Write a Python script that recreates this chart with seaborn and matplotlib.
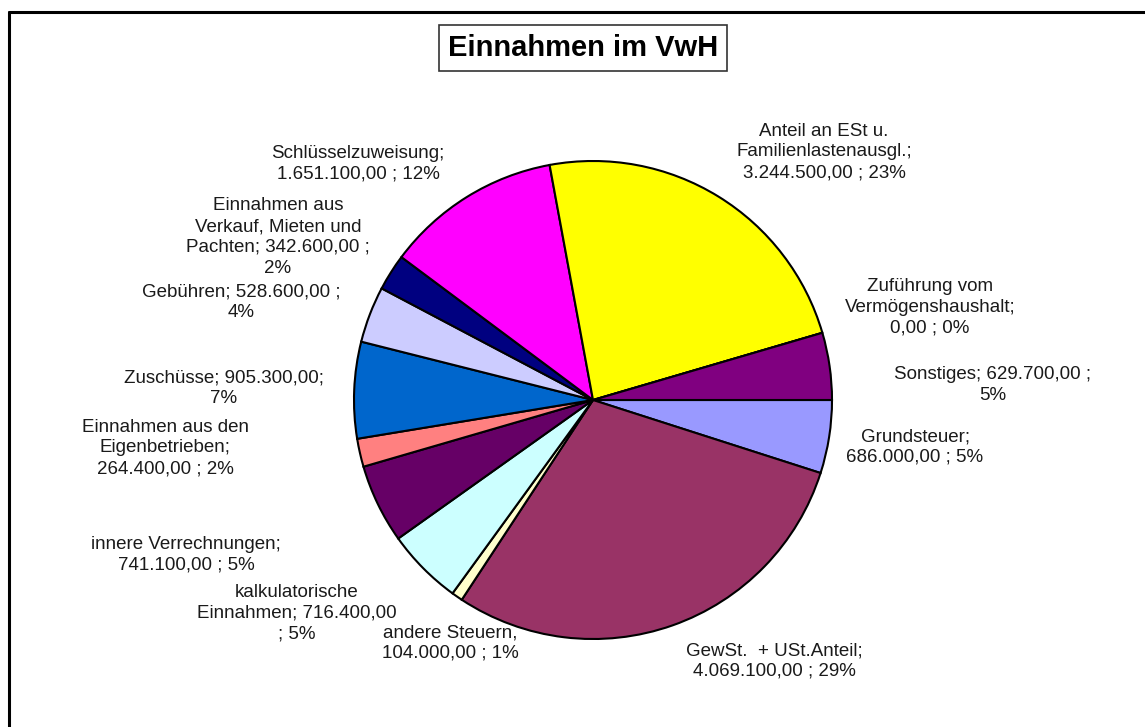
import matplotlib
matplotlib.use("Agg")
import matplotlib.pyplot as plt
import seaborn as sns
from matplotlib.lines import Line2D

# ---------------------------------------------------------
# DATA (clockwise, starting at 3 o'clock)
# ---------------------------------------------------------
categories = [
    "Grundsteuer", "GewSt. + USt.Anteil", "andere Steuern",
    "kalkulatorische Einnahmen", "innere Verrechnungen",
    "Einnahmen aus den Eigenbetrieben", "Zuschüsse", "Gebühren",
    "Einnahmen aus Verkauf, Mieten und Pachten", "Schlüsselzuweisung",
    "Anteil an ESt u. Familienlastenausgl.",
    "Zuführung vom Vermögenshaushalt", "Sonstiges",
]
values = [
    686000, 4069100, 104000, 716400, 741100, 264400, 905300,
    528600, 342600, 1651100, 3244500, 0, 629700,
]
label_templates = [
    "Grundsteuer;\n{v} ; {p}",
    "GewSt.  + USt.Anteil;\n{v} ; {p}",
    "andere Steuern,\n{v} ; {p}",
    "kalkulatorische\nEinnahmen; {v}\n; {p}",
    "innere Verrechnungen;\n{v} ; {p}",
    "Einnahmen aus den\nEigenbetrieben;\n{v} ; {p}",
    "Zuschüsse; {v};\n{p}",
    "Gebühren; {v} ;\n{p}",
    "Einnahmen aus\nVerkauf, Mieten und\nPachten; {v} ;\n{p}",
    "Schlüsselzuweisung;\n{v} ; {p}",
    "Anteil an ESt u.\nFamilienlastenausgl.;\n{v} ; {p}",
    "Zuführung vom\nVermögenshaushalt;\n{v} ; {p}",
    "Sonstiges; {v} ;\n{p}",
]
colors = [
    "#9999FF", "#993366", "#FFFFCC", "#CCFFFF", "#660066", "#FF8080",
    "#0066CC", "#CCCCFF", "#000080", "#FF00FF", "#FFFF00", "#FFFFFF",
    "#800080",
]

# label centres in pixel coordinates (x, y from top)
label_pos = [
    (915, 447), (774, 661), (450, 643), (297, 613), (186, 555),
    (165, 448), (224, 388), (241, 302), (278, 237), (358, 164),
    (824, 152), (930, 307), (993, 385),
]

W, H = 1145, 727
CX, CY, R = 593, 400, 239


def de_num(v):
    s = f"{v:,.2f}"
    return s.replace(",", "X").replace(".", ",").replace("X", ".")


total = sum(values)

sns.set_style("white")
plt.rcParams["font.family"] = ["Liberation Sans", "DejaVu Sans"]

fig = plt.figure(figsize=(W / 100, H / 100), dpi=100)
ax = fig.add_axes([0, 0, 1, 1])

ax.pie(
    values, colors=colors, startangle=0, counterclock=False,
    center=(CX, H - CY), radius=R,
    wedgeprops=dict(edgecolor="black", linewidth=1.5),
    normalize=True, frame=True,
)
ax.set_xlim(0, W)
ax.set_ylim(0, H)
ax.set_aspect("equal")
ax.axis("off")

for tmpl, v, (x, y) in zip(label_templates, values, label_pos):
    txt = tmpl.format(v=de_num(v), p=f"{round(v / total * 100):d}%")
    ax.text(x, H - y, txt, ha="center", va="center", fontsize=13.5,
            color="#1a1a1a", linespacing=1.3)

ax.text(583, H - 48, "Einnahmen im VwH", ha="center", va="center",
        fontsize=21, fontweight="bold", color="black",
        bbox=dict(boxstyle="square,pad=0.3", fc="white", ec="#333333", lw=1.2))

# outer chart frame (only top and left visible)
fig.add_artist(Line2D([9 / W, 1], [1 - 12 / H, 1 - 12 / H], color="black", lw=2.2))
fig.add_artist(Line2D([9 / W, 9 / W], [0, 1 - 12 / H], color="black", lw=2.2))

fig.savefig("out.png", dpi=100)
